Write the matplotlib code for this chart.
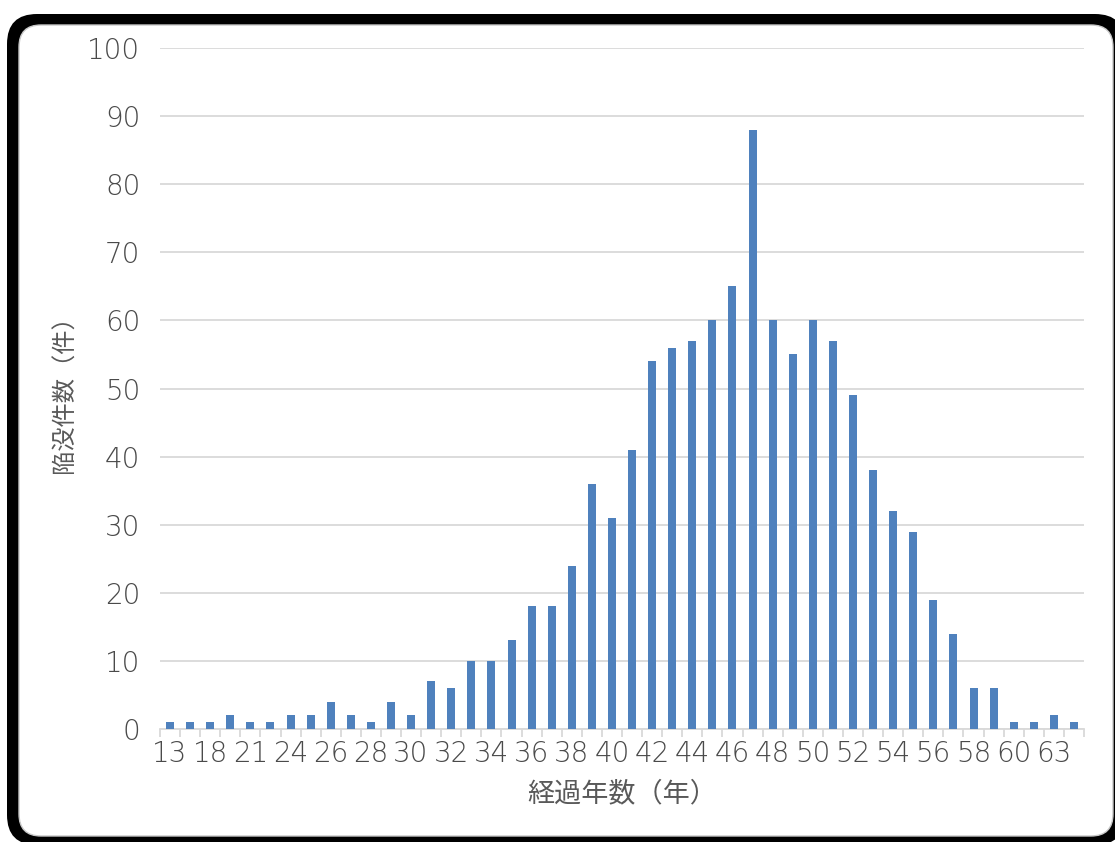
import numpy as np
import matplotlib.pyplot as plt
from matplotlib.patches import FancyBboxPatch
from matplotlib.transforms import IdentityTransform

plt.rcParams['font.family'] = ['Noto Sans CJK JP', 'DejaVu Sans']

# years elapsed and number of collapses per year
years = [13, 15, 18, 19, 21, 23, 24, 25, 26, 27, 28, 29, 30, 31, 32, 33, 34, 35,
         36, 37, 38, 39, 40, 41, 42, 43, 44, 45, 46, 47, 48, 49, 50, 51, 52, 53,
         54, 55, 56, 57, 58, 59, 60, 62, 63, 64]
counts = [1, 1, 1, 2, 1, 1, 2, 2, 4, 2, 1, 4, 2, 7, 6, 10, 10, 13, 18, 18,
          24, 36, 31, 41, 54, 56, 57, 60, 65, 88, 60, 55, 60, 57, 49, 38, 32, 29,
          19, 14, 6, 6, 1, 1, 2, 1]
y_ticks = list(range(0, 101, 10))

fig = plt.figure(figsize=(11.15, 8.42), dpi=100)

# rounded frame drawn in pixel coordinates
frame_back = FancyBboxPatch((7, -3), 1118, 831, boxstyle="round,pad=0,rounding_size=30",
                            transform=IdentityTransform(), facecolor='black',
                            edgecolor='none', zorder=0)
frame_front = FancyBboxPatch((19, 6), 1094, 811, boxstyle="round,pad=0,rounding_size=22",
                             transform=IdentityTransform(), facecolor='white',
                             edgecolor='#c8c8c8', linewidth=1, zorder=1)
fig.patches.extend([frame_back, frame_front])

ax = fig.add_axes([160 / 1115, 1 - 729 / 842, 924 / 1115, 681 / 842])
ax.set_facecolor('none')
ax.set_zorder(2)

x = np.arange(len(years))
ax.bar(x, counts, width=0.4, color='#4f81bd', zorder=3)

ax.set_xlim(-0.5, len(years) - 0.5)
ax.set_ylim(0, 100)
ax.set_yticks(y_ticks)
ax.grid(axis='y', color='#d9d9d9', linewidth=1.3, zorder=0)

ax.set_xticks(x)
ax.set_xticklabels([str(y) if i % 2 == 0 else '' for i, y in enumerate(years)])
ax.set_xticks(np.arange(len(years) + 1) - 0.5, minor=True)
ax.tick_params(axis='x', which='major', length=0, pad=8, labelsize=20, labelcolor='#4a4a4a')
ax.tick_params(axis='x', which='minor', length=6, width=1.3, color='#d9d9d9')
ax.tick_params(axis='y', length=0, pad=14, labelsize=20, labelcolor='#4a4a4a')
for lbl in ax.get_xticklabels() + ax.get_yticklabels():
    lbl.set_family('DejaVu Sans')
    lbl.set_fontweight('light')

for s in ['top', 'right', 'left']:
    ax.spines[s].set_visible(False)
ax.spines['bottom'].set_color('#d9d9d9')
ax.spines['bottom'].set_linewidth(1.3)

ax.set_xlabel('経過年数（年）', fontsize=19.5, color='#595959', labelpad=9)
ax.set_ylabel('陥没件数（件）', fontsize=17.5, color='#595959', labelpad=7)

fig.savefig('out.png', dpi=100)
